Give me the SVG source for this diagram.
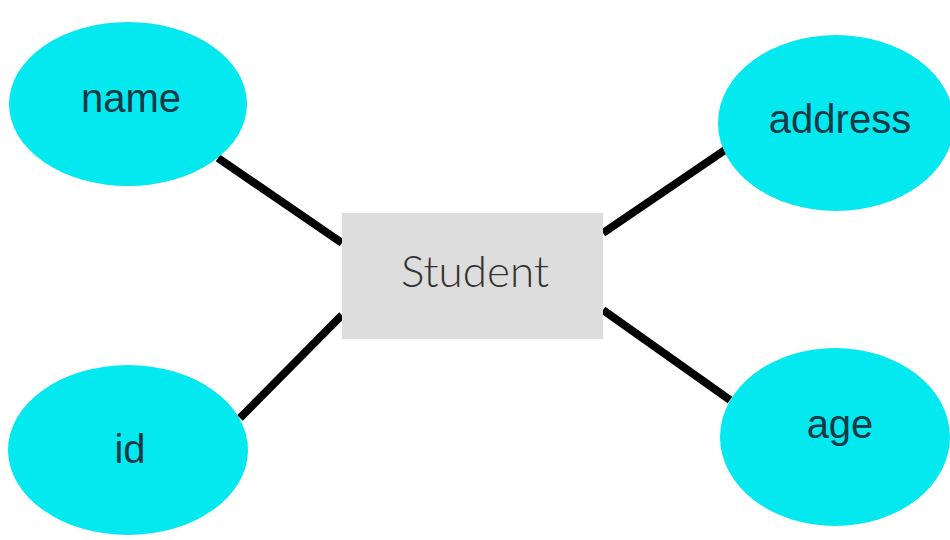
<svg xmlns="http://www.w3.org/2000/svg" width="950" height="540" viewBox="0 0 950 540">
<style>
.attr{fill:#04e8f0;}
.lbl{font-family:"Liberation Sans",Arial,sans-serif;font-size:40px;fill:#163a44;text-anchor:middle;}
.ent{fill:#dddddd;}
.entl{font-family:Lato,"Open Sans",sans-serif;font-weight:300;font-size:44px;fill:#333333;text-anchor:middle;}
.conn line{stroke:#000;stroke-width:8;}
</style>
<rect width="950" height="540" fill="#ffffff"/>
<g id="connectors" class="conn">
<line x1="218" y1="158" x2="342" y2="243"/>
<line x1="240" y1="418" x2="342" y2="315"/>
<line x1="603" y1="233" x2="725" y2="150"/>
<line x1="603" y1="310" x2="730" y2="400"/>
</g>
<g id="student">
<rect class="ent" x="342" y="213" width="261" height="126"/>
<text class="entl" x="475" y="287">Student</text>
</g>
<g id="name">
<ellipse class="attr" cx="128" cy="104" rx="119" ry="82"/>
<text class="lbl" x="131" y="112">name</text>
</g>
<g id="address">
<ellipse class="attr" cx="836" cy="123" rx="118" ry="88"/>
<text class="lbl" x="840" y="133">address</text>
</g>
<g id="id">
<ellipse class="attr" cx="128" cy="450" rx="120" ry="85"/>
<text class="lbl" x="130" y="463">id</text>
</g>
<g id="age">
<ellipse class="attr" cx="835" cy="437" rx="115" ry="89"/>
<text class="lbl" x="840" y="438">age</text>
</g>
</svg>
